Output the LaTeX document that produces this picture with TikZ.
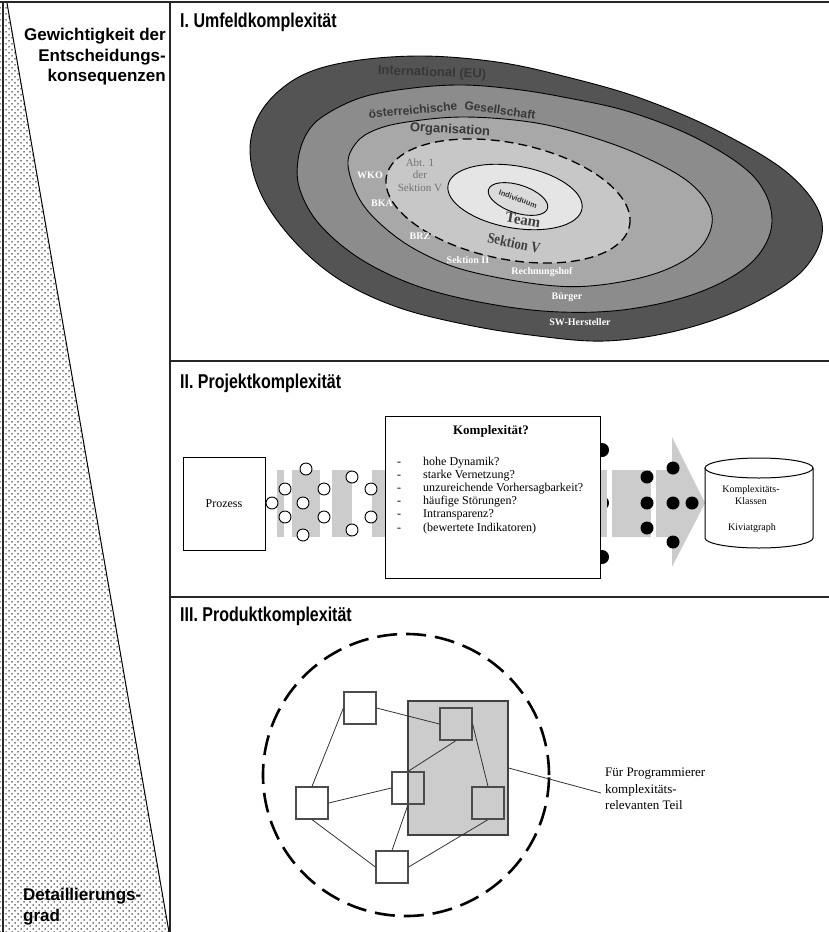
\documentclass[tikz,border=0pt]{standalone}
\usepackage{fontspec}
\setmainfont{Liberation Serif}
\newfontfamily\hsans{Liberation Sans}
\newfontfamily\hnarrow[FakeStretch=0.8]{Liberation Sans}
\newfontfamily\cserif[FakeStretch=0.85]{Liberation Serif}
\usetikzlibrary{patterns}
\pgfdeclarepatternformonly{mydots}{\pgfqpoint{-1pt}{-1pt}}{\pgfqpoint{6pt}{6pt}}{\pgfqpoint{6pt}{6pt}}{%
  \pgfpathcircle{\pgfqpoint{0pt}{0pt}}{0.75pt}%
  \pgfpathcircle{\pgfqpoint{3pt}{3pt}}{0.75pt}%
  \pgfusepath{fill}}
\definecolor{cInt}{gray}{0.33}
\definecolor{cGes}{gray}{0.55}
\definecolor{cOrg}{gray}{0.66}
\definecolor{cSek}{gray}{0.78}
\definecolor{cTeam}{gray}{0.90}
\definecolor{cInd}{gray}{0.86}
\definecolor{cStripe}{gray}{0.80}
\begin{document}
\begin{tikzpicture}[x=1pt,y=-1pt,
  frameline/.style={line width=2pt, black!85},
  sectitle/.style={anchor=base west, inner sep=0, font=\hnarrow\bfseries\fontsize{20}{22}\selectfont},
  sidetext/.style={inner sep=0, font=\hsans\bfseries\fontsize{17}{20}\selectfont},
  ell/.style={draw=black, line width=0.9pt},
  elltext/.style={inner sep=0, text=black!78, font=\hsans\bfseries\fontsize{13}{15}\selectfont},
  wlabel/.style={inner sep=0, text=white, font=\bfseries\fontsize{10}{12}\selectfont},
  smalltext/.style={inner sep=0, font=\fontsize{12}{14}\selectfont},
  wcirc/.style={draw, fill=white, line width=0.9pt},
  sq/.style={draw=black!70, line width=1.2pt, minimum width=32pt, minimum height=32pt, inner sep=0},
  edge/.style={draw=black!80, line width=0.8pt}
]
\useasboundingbox (0,0) rectangle (829,932);

% ---------- left panel ----------
\fill[pattern=mydots] (0,3) -- (7,3) -- (169,932) -- (0,932) -- cycle;
\draw[line width=1pt] (7,3) -- (169,932);
\node[sidetext, anchor=base east] (g1) at (166,40) {Gewichtigkeit der};
\node[sidetext, anchor=base east] (g2) at (166,61) {Entscheidungs-};
\node[sidetext, anchor=base east] (g3) at (166,81) {konsequenzen};
\node[sidetext, anchor=base west] (d1) at (23,900) {Detaillierungs-};
\node[sidetext, anchor=base west] (d2) at (23,921) {grad};

% ---------- frame ----------
\draw[frameline] (0,2) -- (829,2);
\draw[frameline] (3,2) -- (3,932);
\draw[frameline] (170,2) -- (170,932);
\draw[frameline] (170,361) -- (829,361);
\draw[frameline] (170,597) -- (829,597);

% ---------- I ----------
\node[sectitle] (t1) at (180,27) {I. Umfeldkomplexität};
\draw[ell, fill=cInt] plot[smooth cycle, tension=0.6] coordinates {
  (250,150) (262,110) (297,78) (347,62) (420,56) (497,62) (563,76) (640,98) (720,132) (790,175)
  (822,222) (805,268) (750,305) (680,330) (605,341) (530,335) (463,324) (397,307) (340,280) (295,242) (262,196)};
\draw[ell, fill=cGes] plot[smooth cycle, tension=0.6] coordinates {
  (298,160) (307,133) (325,115) (363,97) (413,88) (463,85) (513,89) (563,97) (630,112) (700,140)
  (755,178) (772,222) (752,262) (700,292) (630,309) (560,312) (490,304) (420,287) (362,260) (320,225) (300,190)};
\draw[ell, fill=cOrg] plot[smooth cycle, tension=0.6] coordinates {
  (348,165) (356,143) (375,130) (407,122) (463,117) (530,122) (585,135) (640,155) (690,183)
  (712,215) (700,248) (660,272) (600,285) (545,285) (468,271) (420,252) (385,228) (360,200)};
\draw[ell, fill=cSek, dash pattern=on 9pt off 5pt, line width=1.3pt, rotate around={-11.6:(508,201)}] (508,201) ellipse [x radius=124pt, y radius=58pt];
\draw[ell, fill=cTeam, rotate around={-10:(515,197)}] (515,197) ellipse [x radius=68pt, y radius=31pt];
\draw[ell, fill=cInd, rotate around={-18:(518,199)}] (518,199) ellipse [x radius=31pt, y radius=14pt];

\node[elltext, rotate=-2] (lint) at (432,73) {International (EU)};
\node[elltext, font=\hsans\bfseries\fontsize{12}{14}\selectfont, rotate=5] (lges1) at (413,110) {österreichische};
\node[elltext, font=\hsans\bfseries\fontsize{12}{14}\selectfont, rotate=-8] (lges2) at (500,110) {Gesellschaft};
\node[elltext, rotate=-3] (lorg) at (450,130) {Organisation};

\node[inner sep=0, align=center, text=black!55, font=\fontsize{11}{12.5}\selectfont] (abt) at (420,175) {Abt. 1\\der\\Sektion V};

\node[wlabel] (wko) at (370,175) {WKO};
\node[wlabel] (bka) at (382,203) {BKA};
\node[wlabel] (brz) at (420,236) {BRZ};
\node[wlabel] (s2) at (468,260) {Sektion II};
\node[wlabel] (rh) at (542,272) {Rechnungshof};
\node[wlabel] (bu) at (567,297) {Bürger};
\node[wlabel] (swh) at (580,322) {SW-Hersteller};

\node[inner sep=0, text=black!75, font=\bfseries\fontsize{15}{17}\selectfont, rotate=-10] (team) at (523,220) {Team};
\node[inner sep=0, text=black!75, font=\cserif\bfseries\fontsize{15}{17}\selectfont, rotate=-12] (sekv) at (514,243) {Sektion V};
\node[inner sep=0, text=black!80, font=\hsans\bfseries\fontsize{7.5}{9}\selectfont, rotate=-20] (ind) at (518,199) {Individuum};

% ---------- II ----------
\node[sectitle] (t2) at (180,388) {II. Projektkomplexität};
\fill[cStripe] (277,470) rectangle (284,537);
\fill[cStripe] (292,470) rectangle (320,537);
\fill[cStripe] (332,470) rectangle (352,537);
\fill[cStripe] (372,470) rectangle (386,537);
\foreach \p in {(272,503),(285,489),(285,517),(306,469),(303,503),(303,535),(324,489),(324,517),(352,477),(352,530),(371,489),(371,517)}
  \draw[wcirc] \p circle[radius=6pt];
\node[draw, line width=1pt, minimum width=82pt, minimum height=93pt, inner sep=0, font=\fontsize{12}{14}\selectfont] (proz) at (224,503.5) {Prozess};

\foreach \y in {450,503,557} \fill (602,\y) circle[radius=7pt];
\node[draw, fill=white, line width=1pt, minimum width=215pt, minimum height=162pt, inner sep=0] (kb) at (492.5,497) {};
\node[inner sep=0, font=\bfseries\fontsize{13}{15}\selectfont] (kt) at (491,431) {Komplexität?};
\foreach \t [count=\i from 0] in {hohe Dynamik?,starke Vernetzung?,unzureichende Vorhersagbarkeit?,häufige Störungen?,Intransparenz?,(bewertete Indikatoren)} {
  \node[smalltext, anchor=base west] (dash\i) at (397,{465+13.2*\i}) {-};
  \node[smalltext, anchor=base west] (item\i) at (423,{465+13.2*\i}) {\t};
}

\fill[cStripe] (601,470) rectangle (607,537);
\fill[cStripe] (612,470) -- (672,470) -- (672,437) -- (705,503) -- (672,567) -- (672,537) -- (612,537) -- cycle;
\fill[white] (651,470) rectangle (656,537);
\foreach \p in {(647,477),(647,503),(647,528),(673,468),(673,503),(673,542),(692,503)}
  \fill \p circle[radius=6.5pt];

\draw[fill=white, line width=1pt] (705,468) -- (705,538) arc[start angle=180, end angle=360, x radius=54pt, y radius=10pt] -- (813,468);
\draw[line width=1pt] (759,468) ellipse [x radius=54pt, y radius=10pt];
\node[inner sep=0, align=center, font=\fontsize{10}{12.5}\selectfont] (cyl) at (751,495) {Komplexitäts-\\Klassen};
\node[inner sep=0, font=\fontsize{10}{12}\selectfont] (kiv) at (752,528) {Kiviatgraph};

% ---------- III ----------
\node[sectitle] (t3) at (180,621) {III. Produktkomplexität};
\draw[line width=2.6pt, dash pattern=on 20pt off 9pt] (406,775) ellipse [x radius=143pt, y radius=141pt];
\node[draw=black!75, fill=black!20, line width=1.2pt, minimum width=100pt, minimum height=134pt, inner sep=0] (hl) at (458,768) {};
\node[sq] (q1) at (360,708) {};
\node[sq] (q2) at (456,724) {};
\node[sq] (q3) at (408,788) {};
\node[sq] (q4) at (312,803) {};
\node[sq] (q5) at (488,803) {};
\node[sq] (q6) at (392,867) {};
\draw[edge] (q1.east) -- (q2.west);
\draw[edge] (q1.west) -- (q4.north);
\draw[edge] (q2.south) -- (q3.north);
\draw[edge] (q2.east) -- (q5.north);
\draw[edge] (q4.east) -- (q3.west);
\draw[edge] (q4.south) -- (q6.west);
\draw[edge] (q3.south) -- (q6.north);
\draw[edge] (q5.south) -- (q6.east);
\coordinate (le) at (601,793);
\draw[edge] (hl.east) -- (le);
\node[inner sep=0, anchor=north west, align=left, font=\fontsize{13}{16.5}\selectfont] (lab) at (605,768) {Für Programmierer\\komplexitäts-\\relevanten Teil};
\end{tikzpicture}
\end{document}
